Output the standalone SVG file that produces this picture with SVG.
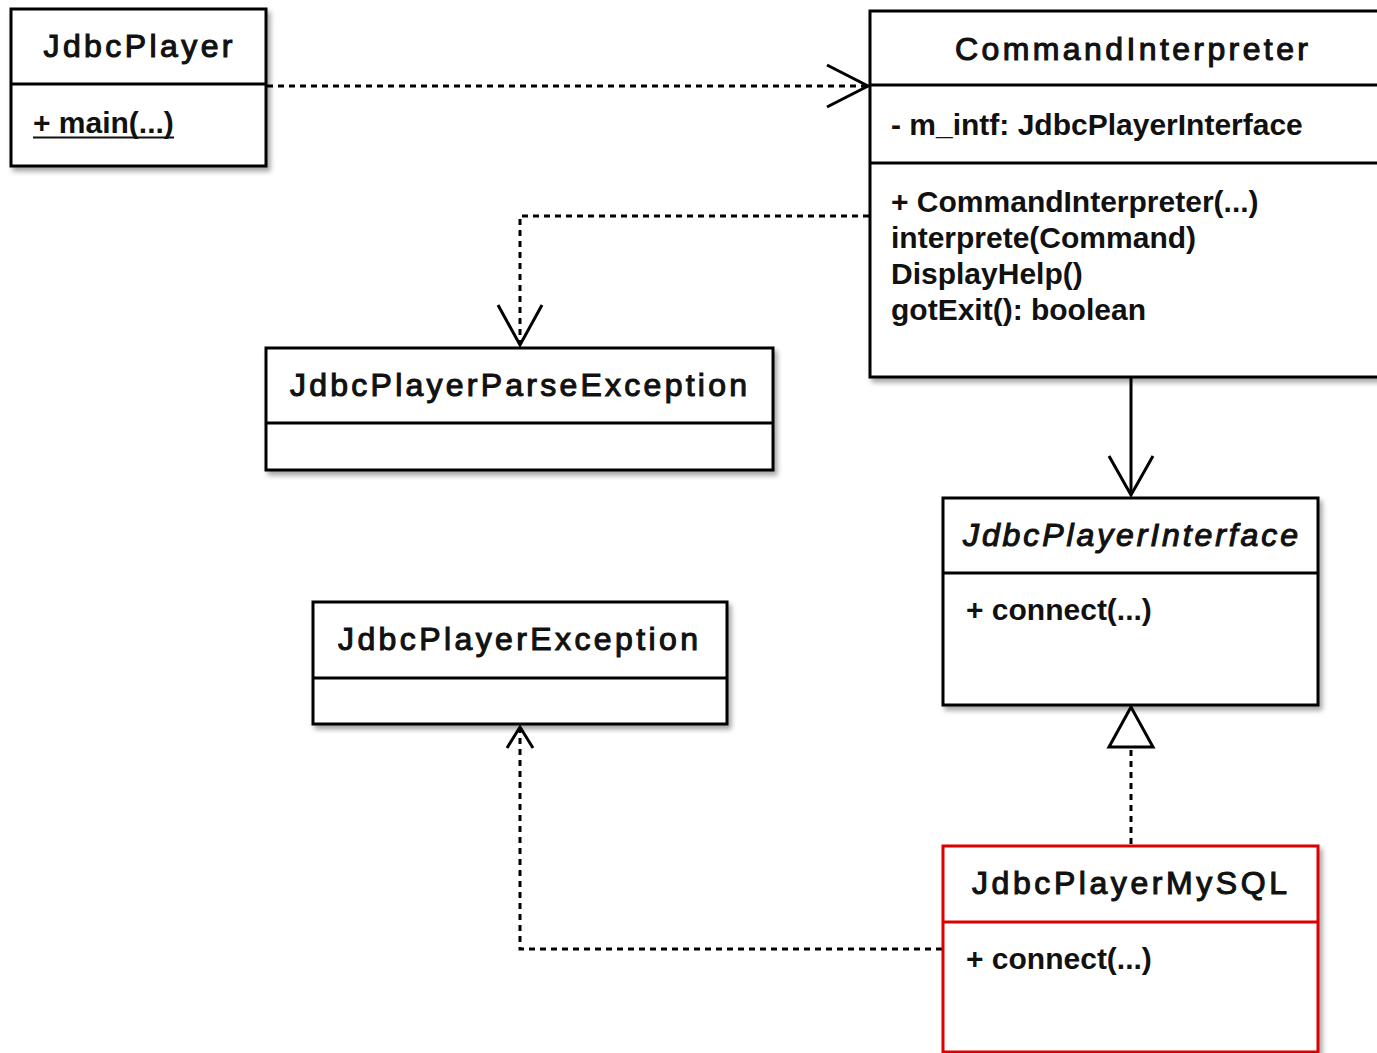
<svg xmlns="http://www.w3.org/2000/svg" width="1377" height="1053" viewBox="0 0 1377 1053">
<defs>
<filter id="sh" x="-10%" y="-10%" width="130%" height="130%">
<feDropShadow dx="3" dy="4" stdDeviation="2.5" flood-color="#000" flood-opacity="0.35"/>
</filter>
</defs>
<style>
.box{fill:#fff;stroke:#000;stroke-width:3;filter:url(#sh)}
.red{stroke:#dd0000}
.div{stroke:#000;stroke-width:3;fill:none}
.divr{stroke:#dd0000;stroke-width:3;fill:none}
.title{font-family:"Liberation Sans",Arial,sans-serif;font-size:32px;fill:#111;stroke:#111;stroke-width:1.1;text-anchor:middle}
.mem{font-family:"Liberation Sans",Arial,sans-serif;font-size:30px;font-weight:bold;fill:#111}
.dot{fill:none;stroke:#000;stroke-width:3;stroke-dasharray:6 5}
.sol{fill:none;stroke:#000;stroke-width:3}
.head{fill:none;stroke:#000;stroke-width:3;stroke-linejoin:miter}
</style>
<rect width="1377" height="1053" fill="#fff"/>
<g id="connectors">
<path class="dot" d="M267,86 L866,86"/>
<polyline class="head" points="827,65 868,86 827,107"/>
<path class="dot" d="M869,216 L520,216 L520,342"/>
<polyline class="head" points="498,305 520,345 542,305"/>
<path class="sol" d="M1131,378 L1131,494"/>
<polyline class="head" points="1109,456 1131,495 1153,456"/>
<path class="dot" d="M1131,844 L1131,750"/>
<polygon class="head" points="1131,707 1109,747 1153,747" style="fill:#fff"/>
<path class="dot" d="M942,949 L520,949 L520,730"/>
<polyline class="head" points="507,748 520,727 533,748"/>
</g>
<g id="JdbcPlayer">
<rect class="box" x="11" y="9" width="255" height="157"/>
<line class="div" x1="11" y1="84" x2="266" y2="84"/>
<text class="title" x="138" y="57" textLength="189" lengthAdjust="spacing">JdbcPlayer</text>
<text class="mem" x="33" y="133">+ main(...)</text>
<line x1="33" y1="137.5" x2="174" y2="137.5" stroke="#111" stroke-width="2"/>
</g>
<g id="CommandInterpreter">
<rect class="box" x="870" y="11" width="522" height="366"/>
<line class="div" x1="870" y1="85" x2="1392" y2="85"/>
<line class="div" x1="870" y1="163" x2="1392" y2="163"/>
<text class="title" x="1131.5" y="60" textLength="353" lengthAdjust="spacing">CommandInterpreter</text>
<text class="mem" x="891" y="135">- m_intf: JdbcPlayerInterface</text>
<text class="mem" x="891" y="212">+ CommandInterpreter(...)</text>
<text class="mem" x="891" y="248">interprete(Command)</text>
<text class="mem" x="891" y="284">DisplayHelp()</text>
<text class="mem" x="891" y="320">gotExit(): boolean</text>
</g>
<g id="JdbcPlayerParseException">
<rect class="box" x="266" y="348" width="507" height="122"/>
<line class="div" x1="266" y1="423" x2="773" y2="423"/>
<text class="title" x="518.5" y="396" textLength="457" lengthAdjust="spacing">JdbcPlayerParseException</text>
</g>
<g id="JdbcPlayerInterface">
<rect class="box" x="943" y="498" width="375" height="207"/>
<line class="div" x1="943" y1="573" x2="1318" y2="573"/>
<text class="title" x="1130.5" y="546" textLength="335" lengthAdjust="spacing" font-style="italic">JdbcPlayerInterface</text>
<text class="mem" x="966" y="620">+ connect(...)</text>
</g>
<g id="JdbcPlayerException">
<rect class="box" x="313" y="602" width="414" height="122"/>
<line class="div" x1="313" y1="678" x2="727" y2="678"/>
<text class="title" x="518" y="650" textLength="360" lengthAdjust="spacing">JdbcPlayerException</text>
</g>
<g id="JdbcPlayerMySQL">
<rect class="box red" x="943" y="846" width="375" height="206"/>
<line class="divr" x1="943" y1="922" x2="1318" y2="922"/>
<text class="title" x="1129.5" y="894" textLength="315" lengthAdjust="spacing">JdbcPlayerMySQL</text>
<text class="mem" x="966" y="969">+ connect(...)</text>
</g>
</svg>
